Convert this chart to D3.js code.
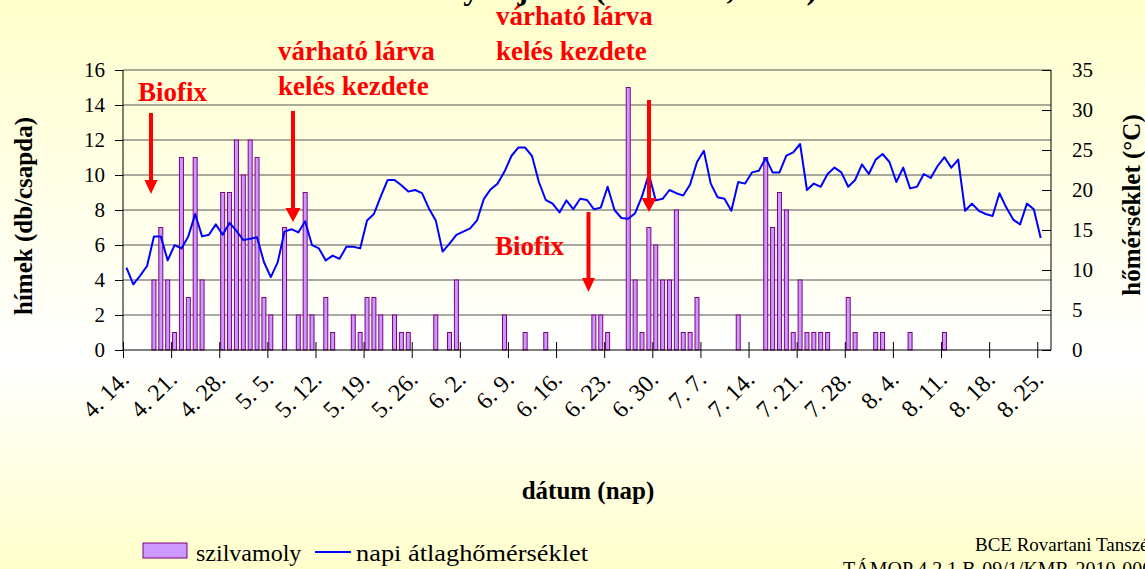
<!DOCTYPE html>
<html>
<head>
<meta charset="utf-8">
<script src="https://cdn.jsdelivr.net/npm/d3@7"></script>
<style>
  body { margin: 0; }
  svg { display: block; font-family: "Liberation Serif", "Times New Roman", serif; }
  .grid line { stroke: #555; }
  .axis path, .axis line { stroke: #000; }
</style>
</head>
<body>
<svg width="1145" height="569"></svg>
<script>
// daily trap catches (db/csapda), 4.14. -> 8.26.
var catches = [
  0, 0, 0, 0, 4, 7, 4, 1, 11, 3,
  11, 4, 0, 0, 9, 9, 12, 10, 12, 11,
  3, 2, 0, 7, 0, 2, 9, 2, 0, 3,
  1, 0, 0, 2, 1, 3, 3, 2, 0, 2,
  1, 1, 0, 0, 0, 2, 0, 1, 4, 0,
  0, 0, 0, 0, 0, 2, 0, 0, 1, 0,
  0, 1, 0, 0, 0, 0, 0, 0, 2, 2,
  1, 0, 0, 15, 4, 1, 7, 6, 4, 4,
  8, 1, 1, 3, 0, 0, 0, 0, 0, 2,
  0, 0, 0, 11, 7, 9, 8, 1, 4, 1,
  1, 1, 1, 0, 0, 3, 1, 0, 0, 1,
  1, 0, 0, 0, 1, 0, 0, 0, 0, 1,
  0, 0, 0, 0, 0, 0, 0, 0, 0, 0,
  0, 0, 0, 0, 0
];

// daily mean temperature (°C), 4.14. -> 8.25.
var temps = [
  10.3, 8.2, 9.3, 10.5, 14.2, 14.2, 11.2, 13.1, 12.7, 14.2,
  17.0, 14.2, 14.4, 15.7, 14.4, 15.9, 14.9, 13.75, 13.9, 14.1,
  11.0, 9.1, 10.95, 14.8, 15.1, 14.7, 16.1, 13.1, 12.7, 11.2,
  11.8, 11.4, 12.9, 12.9, 12.7, 16.2, 17.0, 19.2, 21.25, 21.25,
  20.6, 19.8, 20.0, 19.6, 17.7, 16.2, 12.3, 13.3, 14.4, 14.8,
  15.2, 16.2, 18.9, 20.1, 20.8, 22.3, 24.25, 25.3, 25.3, 24.25,
  21.0, 18.75, 18.3, 17.2, 18.7, 17.6, 18.9, 18.75, 17.6, 17.8,
  20.4, 17.5, 16.5, 16.4, 17.1, 19.2, 22.0, 18.7, 18.9, 20.0,
  19.6, 19.3, 20.7, 23.5, 24.9, 20.8, 19.1, 18.9, 17.4, 21.0,
  20.8, 22.2, 22.4, 24.0, 22.2, 22.2, 24.3, 24.7, 25.75, 20.0,
  20.8, 20.4, 22.0, 22.8, 22.2, 20.4, 21.25, 23.2, 22.0, 23.8,
  24.5, 23.5, 21.0, 22.8, 20.2, 20.4, 22.0, 21.5, 23.0, 24.1,
  22.8, 23.8, 17.4, 18.3, 17.4, 17.0, 16.75, 19.6, 17.8, 16.3,
  15.7, 18.3, 17.6, 14.0
];

var tickLabels = ["4. 14.", "4. 21.", "4. 28.", "5. 5.", "5. 12.", "5. 19.", "5. 26.",
  "6. 2.", "6. 9.", "6. 16.", "6. 23.", "6. 30.", "7. 7.", "7. 14.", "7. 21.",
  "7. 28.", "8. 4.", "8. 11.", "8. 18.", "8. 25."];

var leftTicks = [0, 2, 4, 6, 8, 10, 12, 14, 16];
var rightTicks = [0, 5, 10, 15, 20, 25, 30, 35];

var days = d3.timeDay.range(new Date(2010, 3, 14), new Date(2010, 7, 27));

var svg = d3.select("svg"),
  margin = { top: 70, right: 94, bottom: 219, left: 123 },
  width = 1145 - margin.left - margin.right,
  height = 569 - margin.top - margin.bottom;

// background
var defs = svg.append("defs");
var grad = defs.append("linearGradient").attr("id", "bg")
  .attr("x1", 0).attr("y1", 0).attr("x2", 0).attr("y2", 1);
grad.append("stop").attr("offset", "0%").attr("stop-color", "#ffffcc");
grad.append("stop").attr("offset", "63%").attr("stop-color", "#ffffff");
grad.append("stop").attr("offset", "100%").attr("stop-color", "#ffffcc");
svg.append("rect").attr("width", 1145).attr("height", 569).attr("fill", "url(#bg)");

// title, mostly above the top edge
svg.append("text").attr("x", 330).attr("y", -1)
  .attr("font-size", 32).attr("font-weight", "bold")
  .text("Szilvamoly rajzása (Soroksár, 2010)");

var g = svg.append("g").attr("transform", "translate(" + margin.left + "," + margin.top + ")");

var x = d3.scaleBand().domain(d3.range(days.length)).range([0, width])
  .paddingInner(0.42).paddingOuter(0.21);
var xb = d3.scaleLinear().domain([0, days.length]).range([0, width]);
var y = d3.scaleLinear().domain([0, 16]).range([height, 0]);
var y2 = d3.scaleLinear().domain([0, 35]).range([height, 0]);

// gridlines
g.append("g").attr("class", "grid")
  .selectAll("line").data(leftTicks.slice(1)).enter().append("line")
  .attr("x1", 0).attr("x2", width)
  .attr("y1", function(d) { return y(d); })
  .attr("y2", function(d) { return y(d); });

// bars
g.selectAll(".bar")
  .data(catches.map(function(v, i) { return { i: i, v: v }; }).filter(function(d) { return d.v > 0; }))
  .enter().append("rect")
  .attr("class", "bar")
  .attr("x", function(d) { return x(d.i); })
  .attr("width", x.bandwidth())
  .attr("y", function(d) { return y(d.v); })
  .attr("height", function(d) { return height - y(d.v); })
  .attr("fill", "#cc99ff")
  .attr("stroke", "#800080")
  .attr("stroke-width", 1);

// temperature line
var line = d3.line()
  .x(function(d, i) { return x(i) + x.bandwidth() / 2; })
  .y(function(d) { return y2(d); });

g.append("path")
  .datum(temps)
  .attr("d", line)
  .attr("fill", "none")
  .attr("stroke", "#0000ff")
  .attr("stroke-width", 2)
  .attr("stroke-linejoin", "round");

// axes
var axL = g.append("g").attr("class", "axis")
  .call(d3.axisLeft(y).tickValues(leftTicks).tickSize(8).tickPadding(10));
axL.select(".domain").attr("d", "M0," + height + "V0");
axL.selectAll("text").attr("font-size", 21).attr("font-family", "Liberation Serif").attr("fill", "#000");

var axR = g.append("g").attr("class", "axis").attr("transform", "translate(" + width + ",0)")
  .call(d3.axisRight(y2).tickValues(rightTicks).tickSizeInner(-9).tickSizeOuter(0).tickPadding(21));
axR.select(".domain").attr("d", "M0," + height + "V0");
axR.selectAll("text").attr("font-size", 21).attr("font-family", "Liberation Serif").attr("fill", "#000");

var axB = g.append("g").attr("class", "axis").attr("transform", "translate(0," + height + ")")
  .call(d3.axisBottom(xb).tickValues(d3.range(0, days.length, 7)).tickSize(8).tickFormat(""));
axB.select(".domain").attr("d", "M0,0H" + width);
axB.selectAll(".tick line").attr("y1", -8).attr("y2", 8);

g.append("g").selectAll("text")
  .data(tickLabels).enter().append("text")
  .attr("transform", function(d, k) {
    var cx = x(k * 7) + x.bandwidth() / 2 + 4;
    return "translate(" + cx + "," + (height + 31) + ") rotate(-45)";
  })
  .attr("text-anchor", "end")
  .attr("font-size", 24)
  .text(function(d) { return d; });

// axis titles
svg.append("text").attr("transform", "translate(32,216) rotate(-90)")
  .attr("text-anchor", "middle").attr("font-size", 25).attr("font-weight", "bold")
  .text("hímek (db/csapda)");

svg.append("text").attr("transform", "translate(1140,205) rotate(-90)")
  .attr("text-anchor", "middle").attr("font-size", 25).attr("font-weight", "bold")
  .text("hőmérséklet (°C)");

svg.append("text").attr("x", 588).attr("y", 499).attr("text-anchor", "middle")
  .attr("font-size", 25).attr("font-weight", "bold")
  .text("dátum (nap)");

// annotations
var notes = [
  { lines: ["Biofix"], x: 138, y: 101, ax: 151, top: 113, tip: 194, head: 13 },
  { lines: ["várható lárva", "kelés kezdete"], x: 278, y: 60, ax: 293, top: 111, tip: 222, head: 15 },
  { lines: ["várható lárva", "kelés kezdete"], x: 496, y: 25, ax: 649, top: 100, tip: 212, head: 15 },
  { lines: ["Biofix"], x: 495, y: 255, ax: 588.5, top: 212, tip: 292, head: 13 }
];
var ann = svg.append("g").attr("fill", "#ff0000");
notes.forEach(function(n) {
  n.lines.forEach(function(t, k) {
    ann.append("text").attr("x", n.x).attr("y", n.y + k * 35)
      .attr("font-size", 27).attr("font-weight", "bold").text(t);
  });
  ann.append("rect").attr("x", n.ax - 2).attr("y", n.top).attr("width", 4).attr("height", n.tip - n.top - 12);
  ann.append("path").attr("d", "M" + (n.ax - n.head / 2) + "," + (n.tip - 14) +
    "L" + (n.ax + n.head / 2) + "," + (n.tip - 14) + "L" + n.ax + "," + n.tip + "Z");
});

// legend
var leg = svg.append("g");
leg.append("rect").attr("x", 143).attr("y", 543).attr("width", 44).attr("height", 15)
  .attr("fill", "#cc99ff").attr("stroke", "#800080");
leg.append("text").attr("x", 196).attr("y", 561).attr("font-size", 24).text("szilvamoly");
leg.append("line").attr("x1", 315).attr("x2", 351).attr("y1", 552).attr("y2", 552)
  .attr("stroke", "#0000ff").attr("stroke-width", 2);
leg.append("text").attr("x", 356).attr("y", 561).attr("font-size", 24)
  .attr("textLength", 232).attr("lengthAdjust", "spacingAndGlyphs")
  .text("napi átlaghőmérséklet");

// credits, cut by the right and bottom edges
svg.append("text").attr("x", 975).attr("y", 551).attr("font-size", 19).text("BCE Rovartani Tanszék");
svg.append("text").attr("x", 843).attr("y", 576).attr("font-size", 20).text("TÁMOP 4.2.1.B-09/1/KMR-2010-0005");
</script>
</body>
</html>
